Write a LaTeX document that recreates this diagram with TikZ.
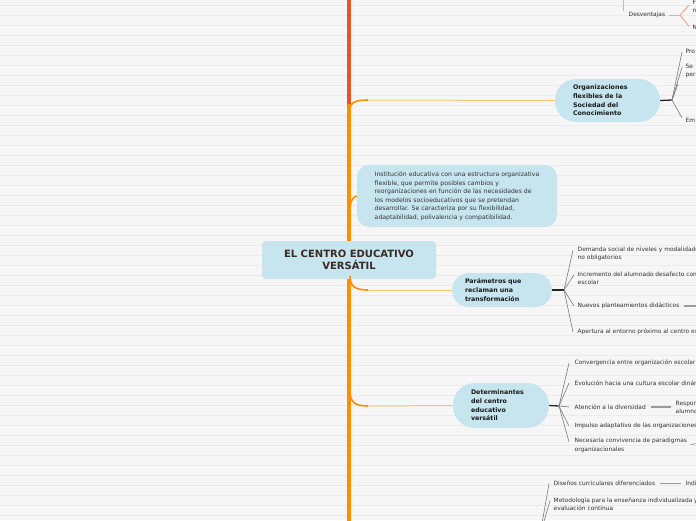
\documentclass[tikz,border=0pt]{standalone}
\usepackage{fontspec}
\setmainfont{DejaVu Sans}
\usetikzlibrary{calc}
\definecolor{bg}{HTML}{F6F6F6}
\definecolor{rulec}{HTML}{EBEBEB}
\definecolor{trunkred}{HTML}{E9542C}
\definecolor{trunkor}{HTML}{FD8E00}
\definecolor{branchor}{HTML}{FFC46E}
\definecolor{nodeblue}{HTML}{C6E5EF}
\definecolor{salmonc}{HTML}{F4A88E}
\definecolor{txt}{HTML}{333333}
\definecolor{roottxt}{HTML}{3B2A22}
\definecolor{leafc}{HTML}{7A7A7A}
\definecolor{linkc}{HTML}{9A9A9A}
\begin{document}
\begin{tikzpicture}[x=1pt,y=-1pt,
  leaf/.style={anchor=west, inner sep=0.5pt, align=left, text=txt, font=\fontsize{5.9}{8.3}\selectfont},
  topic/.style={fill=nodeblue, text=black!90, font=\bfseries\fontsize{6.3}{8.7}\selectfont, align=left, inner ysep=0pt},
  leafline/.style={draw=leafc, line width=0.6pt},
  linkline/.style={draw=linkc, line width=1.3pt},
  hub/.style={draw=black!85, line width=1.3pt},
  trunkcurve/.style={draw=trunkor, line width=1.6pt},
  branchline/.style={draw=branchor, line width=1pt},
  salmonline/.style={draw=salmonc, line width=1pt}
]
\useasboundingbox (0,0) rectangle (696,520);
\clip (0,0) rectangle (696,520);
\fill[bg] (0,0) rectangle (696,520);
\foreach \yy in {5,15,...,515} \draw[rulec, line width=0.7pt] (0,\yy) -- (696,\yy);

% trunk
\coordinate (trTop) at (349,-2);
\coordinate (trMid) at (349,112);
\coordinate (trStart) at (349,104);
\coordinate (trBot) at (349,525);
\draw[trunkred, line width=4pt] (trTop) -- (trMid);
\draw[trunkor, line width=4pt] (trStart) -- (trBot);

% main nodes
\node[fill=nodeblue, rounded corners=4pt, minimum width=174pt, minimum height=38pt, align=center,
      font=\bfseries\fontsize{10}{12}\selectfont, text=roottxt, inner sep=0pt] (root) at (349,260)
      {EL CENTRO EDUCATIVO\\VERSÁTIL};

\node[topic, rounded corners=21pt, minimum height=43pt, text width=69pt, inner xsep=18pt] (org) at (607.5,100.5)
      {Organizaciones\\flexibles de la\\Sociedad del\\Conocimiento};

\node[fill=nodeblue, rounded corners=12pt, minimum width=200pt, minimum height=62pt, align=left,
      font=\fontsize{6.15}{8.5}\selectfont, text=txt, inner sep=0pt] (def) at (457,196)
      {Institución educativa con una estructura organizativa\\flexible, que permite posibles cambios y\\reorganizaciones en función de las necesidades de\\los modelos socioeducativos que se pretendan\\desarrollar. Se caracteriza por su flexibilidad,\\adaptabilidad, polivalencia y compatibilidad.};

\node[topic, rounded corners=17pt, minimum height=34pt, text width=74pt, inner xsep=13pt] (par) at (502,290)
      {Parámetros que\\reclaman una\\transformación};

\node[topic, rounded corners=22pt, minimum height=45pt, text width=60pt, inner xsep=18pt] (det) at (501,405.5)
      {Determinantes\\del centro\\educativo\\versátil};

% branches from trunk
\coordinate (bOrgA) at (349,114);
\coordinate (bOrgB) at (368,100);
\draw[trunkcurve] (bOrgA) .. controls (349,102) and (355,100) .. (bOrgB);
\draw[branchline] (bOrgB) -- (org.west);

\coordinate (bDefA) at (350,207);
\draw[trunkcurve] (bDefA) .. controls (351,199) and (354,196.5) .. (def.west);

\coordinate (bParA) at (350,276);
\coordinate (bParB) at (368,290);
\draw[trunkcurve] (bParA) .. controls (350,287) and (356,290) .. (bParB);
\draw[branchline] (bParB) -- (par.west);

\coordinate (bDetA) at (350,391);
\coordinate (bDetB) at (368,406);
\draw[trunkcurve] (bDetA) .. controls (350,403) and (356,406) .. (bDetB);
\draw[branchline] (bDetB) -- (det.west);

% Desventajas (top)
\node[leaf] (desv) at (628,15) {Desventajas};
\coordinate (desvTop) at (623,-2);
\coordinate (desvJ) at (680,15);
\draw[salmonline] (desvTop) -- (desvTop |- desv.north);
\draw[salmonline] ($(desv.east)+(3,0)$) -- (desvJ);
\node[leaf] (dfn) at (692,6.5) {F\\n};
\node[leaf] (dnn) at (692,27) {N};
\draw[salmonline] (desvJ) -- ($(dfn.west)+(-3,-1.5)$);
\draw[salmonline] (desvJ) -- ($(dnn.west)+(-3,-0.5)$);

% Organizaciones children
\coordinate (orgJ) at (672,100);
\draw[hub] (org.east) -- (orgJ);
\node[leaf] (pro) at (685,51) {Pro};
\node[leaf] (sep) at (685,71) {Se\\per};
\coordinate (orgX) at (678,84);
\node[leaf] (em) at (685,120) {Em};
\draw[leafline] (orgJ) -- ($(pro.west)+(-3,1)$);
\draw[leafline] (orgJ) -- ($(sep.north west)+(-3,4)$);
\draw[leafline] (orgJ) -- (orgX);
\draw[leafline] (orgJ) -- ($(em.west)+(-3,-2)$);

% Parametros children
\coordinate (parJ) at (564,290);
\draw[hub] (par.east) -- (parJ);
\node[leaf] (dem) at (577,254) {Demanda social de niveles y modalidades\\no obligatorios};
\node[leaf] (inc) at (577,278) {Incremento del alumnado desafecto con\\escolar};
\node[leaf] (nue) at (577,306) {Nuevos planteamientos didácticos};
\node[leaf] (ape) at (577,332) {Apertura al entorno próximo al centro escolar};
\coordinate (nueR) at (700,306);
\draw[linkline] ($(nue.east)+(4,0)$) -- (nueR);
\draw[leafline] (parJ) -- ($(dem.north west)+(-4,4)$);
\draw[leafline] (parJ) -- ($(inc.north west)+(-3,4)$);
\draw[leafline] (parJ) -- ($(nue.west)+(-3,0)$);
\draw[leafline] (parJ) -- ($(ape.west)+(-4,0)$);

% Determinantes children
\coordinate (detJ) at (559,406);
\draw[hub] (det.east) -- (detJ);
\node[leaf] (conv) at (574,363) {Convergencia entre organización escolar};
\node[leaf] (evo) at (574,383) {Evolución hacia una cultura escolar dinámica};
\node[leaf] (ate) at (574,407) {Atención a la diversidad};
\node[leaf] (resp) at (675,407) {Responde\\alumnos};
\node[leaf] (imp) at (574,426) {Impulso adaptativo de las organizaciones};
\node[leaf] (nec) at (574,445.5) {Necesaria convivencia de paradigmas\\organizacionales};
\coordinate (necR) at (700,443);
\draw[linkline] ($(ate.east)+(4,0)$) -- ($(resp.west)+(-4,0)$);
\draw[linkline, line width=0.8pt] ($(nec.east)+(3,-1)$) -- (necR);
\draw[leafline] (detJ) -- ($(conv.west)+(-5,0)$);
\draw[leafline] (detJ) -- ($(evo.west)+(-5,0)$);
\draw[leafline] (detJ) -- ($(ate.west)+(-5,0)$);
\draw[leafline] (detJ) -- ($(imp.west)+(-5,0)$);
\draw[leafline] (detJ) -- ($(nec.north west)+(-5,4)$);

% bottom branch
\coordinate (botA) at (540,535);
\node[leaf] (dis) at (553,483.5) {Diseños curriculares diferenciados};
\node[leaf] (ind) at (685,483.5) {Individualización};
\node[leaf] (met) at (553,504) {Metodología para la enseñanza individualizada y\\evaluación continua};
\draw[linkline] ($(dis.east)+(4,0)$) -- ($(ind.west)+(-4,0)$);
\draw[leafline] (botA) -- ($(dis.west)+(-4,0)$);
\draw[leafline] (botA) -- ($(met.north west)+(-3,4)$);
\end{tikzpicture}
\end{document}
